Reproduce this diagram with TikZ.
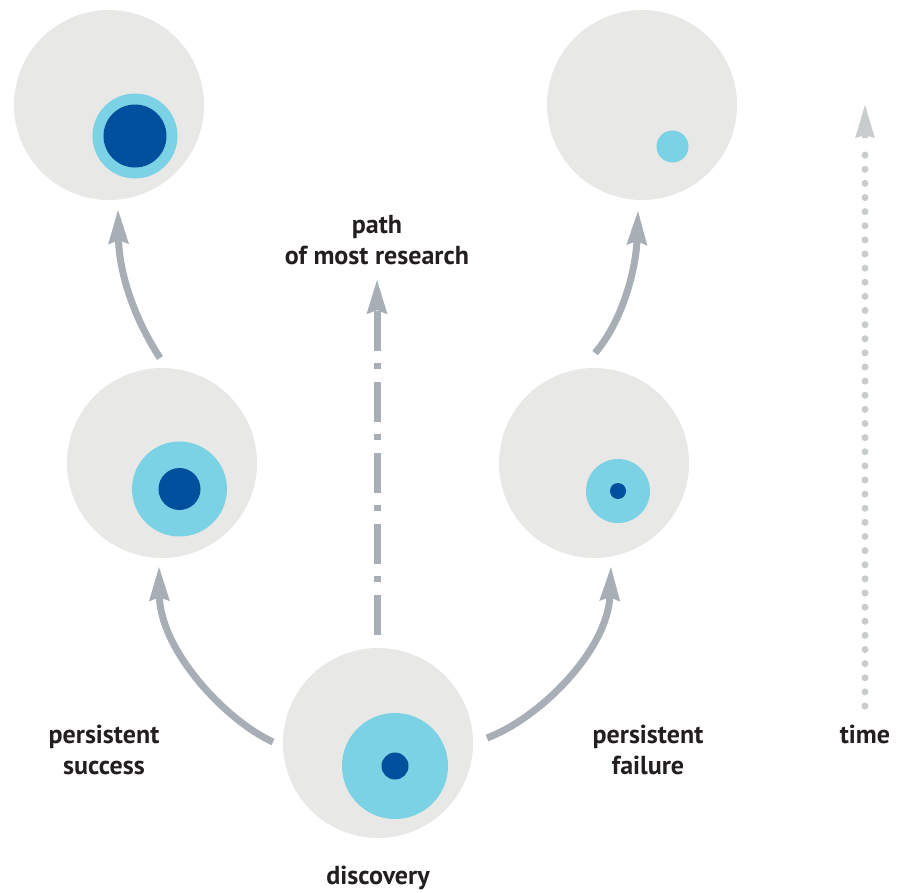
\documentclass[tikz,border=0pt]{standalone}
\usepackage{fontspec}
\setmainfont{PT Sans}
\usetikzlibrary{arrows.meta}
\definecolor{disc}{HTML}{E8E8E6}
\definecolor{lightblue}{HTML}{7BD2E4}
\definecolor{darkblue}{HTML}{00509D}
\definecolor{arrowgray}{HTML}{A8AEB5}
\definecolor{dotgray}{HTML}{C9CCCD}
\definecolor{txt}{HTML}{231F20}
\begin{document}
\begin{tikzpicture}[x=1pt,y=-1pt,
  blob/.style={circle, fill=disc, draw=none, inner sep=0pt, minimum size=190pt},
  ring/.style={circle, fill=lightblue, draw=none, inner sep=0pt, minimum size=#1},
  core/.style={circle, fill=darkblue, draw=none, inner sep=0pt, minimum size=#1},
  flow/.style={draw=arrowgray, line width=7pt, line cap=butt,
    -{Stealth[length=34pt, width=19pt, inset=3pt, fill=arrowgray]}},
  lbl/.style={text=txt, font=\fontsize{26}{31}\selectfont\bfseries, inner sep=0pt, anchor=base}
]
\useasboundingbox (0,0) rectangle (900,892);

% discs
\node[blob] (tl) at (109,105) {};
\node[ring=85pt] (tlr) at (135,136) {};
\node[core=63pt] (tlc) at (135,136) {};

\node[blob] (ml) at (162,463) {};
\node[ring=95pt] (mlr) at (179.5,489) {};
\node[core=42pt] (mlc) at (179.5,489) {};

\node[blob] (bc) at (378,743) {};
\node[ring=106pt] (bcr) at (395,766) {};
\node[core=27pt] (bcc) at (395,766) {};

\node[blob] (mr) at (594,463) {};
\node[ring=64pt] (mrr) at (618,491) {};
\node[core=16pt] (mrc) at (618,491) {};

\node[blob] (tr) at (642,105) {};
\node[ring=32pt] (trr) at (672.5,146.5) {};

% arrow end points
\coordinate (a1s) at (160,358);
\coordinate (a1e) at (118,209);
\coordinate (a2s) at (273,742);
\coordinate (a2e) at (159,566);
\coordinate (a3s) at (487,738);
\coordinate (a3e) at (611,566);
\coordinate (a4s) at (595,353);
\coordinate (a4e) at (638,210);
\coordinate (rs) at (377,635);
\coordinate (re) at (377,279);
\coordinate (ts) at (865,706);
\coordinate (tb) at (865,141.5);
\coordinate (te) at (865,104);

% curved arrows
\draw[flow] (a2s) .. controls (225,720) and (160,650) .. (a2e);
\draw[flow] (a1s) .. controls (132,315) and (119,270) .. (a1e);
\draw[flow] (a3s) .. controls (540,718) and (608,650) .. (a3e);
\draw[flow] (a4s) .. controls (622,322) and (636,270) .. (a4e);

% path of most research
\draw[flow, dash pattern=on 40pt off 13pt on 6pt off 12pt] (rs) -- (re);

% time
\draw[draw=dotgray, line width=7pt, line cap=round, dash pattern=on 0pt off 14.125pt] (ts) -- (tb);
\draw[draw=dotgray, line width=6pt, line cap=butt,
  -{Stealth[length=33pt, width=18pt, inset=2pt, fill=dotgray]}] (865,138) -- (te);

% labels
\node[lbl] (l1) at (377,233) {path};
\node[lbl] (l2) at (377,264) {of most research};
\node[lbl] (l3) at (104,743) {persistent};
\node[lbl] (l4) at (104,774) {success};
\node[lbl] (l5) at (648,743) {persistent};
\node[lbl] (l6) at (648,774) {failure};
\node[lbl] (l7) at (865,743) {time};
\node[lbl] (l8) at (378,884) {discovery};
\end{tikzpicture}
\end{document}
